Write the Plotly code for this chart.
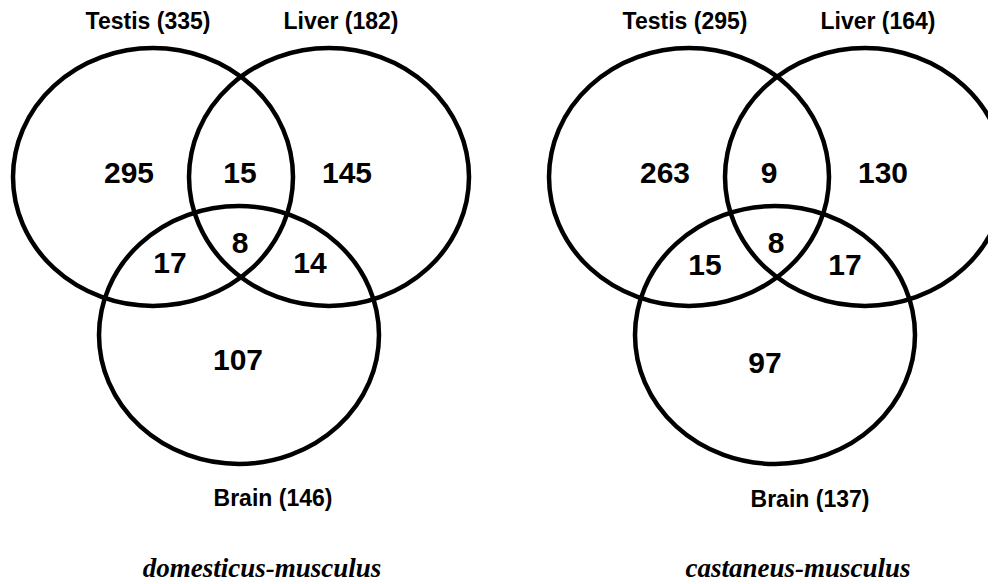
import plotly.graph_objects as go

# ---- data ----
panel_titles = ["domesticus-musculus", "castaneus-musculus"]
set_names = ["Testis", "Liver", "Brain"]
set_totals = [[335, 182, 146], [295, 164, 137]]
# regions: T only, T&L, L only, T&B, T&L&B, L&B, B only
region_counts = [[295, 15, 145, 17, 8, 14, 107],
                 [263, 9, 130, 15, 8, 17, 97]]

# ---- layout geometry (screen-pixel space; page body has an 8px margin) ----
W, H = 996, 584
OFF = 8
panel_dx = [0, 536]
circle_centers = [(153, 177), (329, 177), (239, 335)]
circle_rx, circle_ry = 140, 129
region_pos = [[(129, 175), (240, 175), (347, 175), (170, 265), (240, 245), (310, 265), (238, 362)],
              [(129, 175), (233, 175), (347, 175), (169, 267), (240, 245), (309, 267), (229, 365)]]
label_pos = [[(148, 23), (341, 23), (273, 500)],
             [(149, 23), (342, 23), (274, 501)]]
title_pos = [(262, 570), (262, 570)]

fig = go.Figure()

for p in range(2):
    dx = panel_dx[p]
    for (cx, cy) in circle_centers:
        fig.add_shape(type="circle", xref="x", yref="y",
                      x0=cx + dx - circle_rx, x1=cx + dx + circle_rx,
                      y0=cy - circle_ry, y1=cy + circle_ry,
                      line=dict(color="black", width=4.5), fillcolor="rgba(0,0,0,0)")
    fig.add_trace(go.Scatter(
        x=[x + dx for x, _ in region_pos[p]], y=[y for _, y in region_pos[p]],
        mode="text", text=[str(v) for v in region_counts[p]],
        textposition="middle center", cliponaxis=False,
        textfont=dict(family="Liberation Sans, Arial, sans-serif", size=30, color="black", weight="bold"),
        hoverinfo="skip", showlegend=False))
    fig.add_trace(go.Scatter(
        x=[x + dx for x, _ in label_pos[p]], y=[y for _, y in label_pos[p]],
        mode="text", text=[f"{n} ({t})" for n, t in zip(set_names, set_totals[p])],
        textposition="middle center", cliponaxis=False,
        textfont=dict(family="Liberation Sans, Arial, sans-serif", size=23, color="black", weight="bold"),
        hoverinfo="skip", showlegend=False))
    fig.add_trace(go.Scatter(
        x=[title_pos[p][0] + dx], y=[title_pos[p][1]],
        mode="text", text=[panel_titles[p]],
        textposition="middle center", cliponaxis=False,
        textfont=dict(family="Liberation Serif, Times New Roman, serif", size=27, color="black",
                      weight="bold", style="italic"),
        hoverinfo="skip", showlegend=False))

fig.update_layout(
    width=W, height=H, margin=dict(l=0, r=0, t=0, b=0),
    paper_bgcolor="white", plot_bgcolor="white",
    xaxis=dict(range=[OFF, OFF + W], visible=False, fixedrange=True),
    yaxis=dict(range=[OFF + H, OFF], visible=False, fixedrange=True),
)

fig.write_html("out.html")
